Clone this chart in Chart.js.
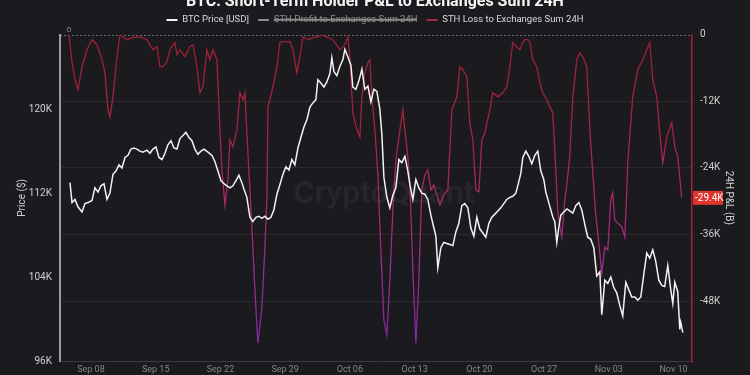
<!DOCTYPE html>
<html>
<head>
<meta charset="utf-8">
<script src="https://cdn.jsdelivr.net/npm/chart.js@4.4.1/dist/chart.umd.min.js"></script>
<style>
  html, body { margin: 0; padding: 0; background: #1b1a1f; overflow: hidden; }
  #wrap { position: absolute; left: 0; top: -10px; width: 750px; height: 385px; }
</style>
</head>
<body>
<div id="wrap"><canvas id="chart"></canvas></div>
<script>
// x positions are days counted from Sep 08
const xTickDays = [0, 7, 14, 21, 28, 35, 42, 49, 56, 63];
const xTickLabels = ['Sep 08', 'Sep 15', 'Sep 22', 'Sep 29', 'Oct 06', 'Oct 13', 'Oct 20', 'Oct 27', 'Nov 03', 'Nov 10'];
const priceTicks = [96, 104, 112, 120];      // thousand USD
const lossTicks = [0, -12, -24, -36, -48];   // thousand BTC

const priceDays = [-2.27, -2.05, -1.73, -1.41, -0.97, -0.65, -0.32, 0.11, 0.43, 0.76,
  1.08, 1.41, 1.73, 2.05, 2.38, 2.70, 3.03, 3.35, 3.68, 4.00,
  4.32, 4.65, 4.97, 5.30, 5.62, 6.05, 6.38, 6.70, 7.03, 7.35,
  7.68, 8.00, 8.32, 8.65, 8.97, 9.30, 9.62, 9.95, 10.27, 10.59,
  10.92, 11.24, 11.57, 11.89, 12.22, 12.65, 13.08, 13.41, 13.73, 14.05,
  14.38, 14.70, 15.03, 15.35, 15.68, 16.00, 16.32, 16.54, 16.86, 17.19,
  17.51, 17.84, 18.16, 18.49, 18.81, 19.14, 19.46, 19.78, 20.11, 20.43,
  20.76, 21.08, 21.41, 21.73, 22.05, 22.38, 22.70, 23.03, 23.35, 23.68,
  24.00, 24.32, 24.54, 24.86, 25.19, 25.51, 25.84, 26.05, 26.27, 26.59,
  26.92, 27.24, 27.46, 27.78, 28.11, 28.32, 28.65, 28.97, 29.30, 29.62,
  29.95, 30.27, 30.59, 30.92, 31.24, 31.46, 31.68, 32.00, 32.32, 32.65,
  32.97, 33.30, 33.62, 33.95, 34.27, 34.49, 34.81, 35.14, 35.46, 35.78,
  36.11, 36.43, 36.76, 37.08, 37.30, 37.51, 37.84, 38.16, 38.49, 38.81,
  39.14, 39.46, 39.78, 40.11, 40.43, 40.76, 41.08, 41.41, 41.73, 42.05,
  42.38, 42.70, 43.03, 43.35, 43.68, 44.00, 44.32, 44.65, 44.97, 45.30,
  45.62, 45.95, 46.27, 46.49, 46.70, 47.03, 47.35, 47.68, 48.00, 48.32,
  48.65, 48.97, 49.19, 49.41, 49.73, 49.95, 50.16, 50.38, 50.59, 50.81,
  51.14, 51.46, 51.78, 52.11, 52.43, 52.76, 53.08, 53.41, 53.73, 54.05,
  54.38, 54.70, 55.03, 55.24, 55.57, 55.89, 56.22, 56.54, 56.86, 57.19,
  57.51, 57.84, 58.16, 58.49, 58.81, 59.14, 59.46, 59.78, 60.11, 60.43,
  60.76, 61.08, 61.41, 61.73, 62.05, 62.38, 62.70, 62.92, 63.14, 63.46,
  63.68, 63.78, 64.00];

// BTC price, thousand USD
const btcPrice = [113.0, 111.1, 111.4, 110.7, 110.2, 111.0, 111.1, 111.3, 112.5, 112.1,
  112.7, 112.9, 111.4, 112.0, 113.8, 114.1, 114.7, 114.4, 115.4, 115.6,
  116.2, 116.3, 116.2, 116.0, 115.9, 116.1, 115.8, 116.2, 116.4, 115.4,
  115.2, 115.8, 116.6, 117.0, 116.3, 116.2, 117.2, 117.5, 117.8, 117.3,
  117.0, 116.2, 115.7, 116.0, 116.2, 115.9, 115.6, 115.0, 114.1, 113.2,
  112.9, 112.7, 112.5, 112.7, 113.2, 113.7, 113.0, 112.4, 111.6, 109.7,
  109.3, 109.7, 109.8, 109.6, 109.8, 109.5, 109.7, 110.4, 111.9, 112.8,
  113.8, 114.5, 114.2, 115.2, 114.7, 116.3, 117.3, 118.3, 119.0, 120.2,
  120.6, 120.9, 122.8, 122.5, 122.1, 122.6, 123.4, 124.9, 123.6, 123.2,
  124.1, 124.7, 125.7, 125.0, 124.2, 122.1, 121.9, 122.7, 123.8, 121.9,
  122.2, 120.7, 121.9, 121.7, 120.0, 117.6, 113.5, 111.6, 110.6, 111.8,
  112.5, 115.2, 114.9, 115.5, 114.1, 112.8, 111.4, 113.3, 112.5, 112.0,
  111.9, 111.4, 109.9, 108.7, 107.9, 104.9, 106.8, 107.3, 107.2, 107.1,
  107.0, 108.3, 109.1, 110.8, 111.0, 110.6, 108.7, 107.9, 109.7, 108.6,
  108.2, 107.8, 109.1, 109.7, 110.0, 110.3, 110.6, 111.0, 111.4, 111.6,
  111.7, 112.0, 113.1, 113.9, 115.4, 116.0, 115.5, 114.8, 115.6, 116.0,
  114.1, 113.3, 112.1, 111.4, 110.4, 109.7, 109.3, 107.3, 108.7, 109.9,
  110.2, 110.5, 110.3, 110.1, 110.8, 111.1, 110.4, 109.0, 107.8, 107.6,
  106.8, 104.1, 104.5, 100.4, 103.7, 103.4, 104.0, 103.0, 102.5, 101.3,
  100.3, 103.5, 102.8, 102.1, 102.1, 101.8, 102.1, 104.2, 106.3, 105.8,
  106.6, 105.5, 103.7, 103.2, 103.1, 105.1, 102.8, 101.5, 103.5, 102.6,
  99.0, 99.7, 98.7];

const lossDays = [-2.38, -2.05, -1.73, -1.41, -0.97, -0.43, 0.11, 0.65, 1.19, 1.51,
  1.84, 2.05, 2.38, 2.81, 3.14, 3.89, 4.54, 5.30, 6.05, 6.70,
  7.14, 7.46, 7.78, 8.22, 8.54, 9.08, 9.30, 9.62, 10.16, 10.70,
  11.03, 11.46, 11.78, 12.11, 12.54, 12.86, 13.19, 13.62, 13.95, 14.16,
  14.49, 14.81, 15.03, 15.35, 15.78, 16.11, 16.43, 16.65, 16.86, 17.19,
  17.41, 17.73, 18.05, 18.49, 18.81, 19.03, 19.14, 19.35, 19.68, 20.11,
  20.43, 20.76, 21.51, 21.84, 22.27, 22.59, 22.92, 23.46, 24.00, 24.54,
  24.97, 25.62, 26.16, 26.92, 27.46, 27.78, 28.00, 28.32, 28.76, 29.08,
  29.30, 29.62, 29.95, 30.16, 30.38, 30.70, 31.03, 31.35, 31.68, 32.00,
  32.32, 32.65, 32.97, 33.41, 33.73, 33.95, 34.27, 34.49, 34.81, 35.14,
  35.46, 35.78, 36.11, 36.43, 36.76, 37.08, 37.41, 37.73, 38.16, 38.59,
  39.03, 39.57, 39.89, 40.22, 40.65, 40.97, 41.30, 41.62, 41.95, 42.27,
  42.59, 43.14, 43.46, 44.00, 44.54, 44.97, 45.30, 45.62, 46.05, 46.38,
  46.70, 46.92, 47.24, 47.46, 47.78, 48.22, 48.54, 48.86, 49.30, 49.62,
  49.95, 50.27, 50.49, 50.92, 51.24, 51.46, 51.78, 52.11, 52.54, 52.86,
  53.19, 53.62, 53.95, 54.27, 54.59, 55.03, 55.24, 55.57, 55.89, 56.22,
  56.43, 56.65, 56.97, 57.41, 57.73, 57.95, 58.05, 58.59, 59.14, 59.68,
  60.11, 60.43, 60.76, 61.19, 61.51, 61.84, 62.27, 62.81, 63.14, 63.46,
  63.89];

// STH loss to exchanges, thousand BTC
const sthLoss = [0, -5.05, -8.12, -9.92, -5.77, -2.71, -0.90, -1.80, -4.51, -6.86,
  -13.53, -14.80, -11.19, -3.97, 0, -0.90, -0.54, -0.36, -0.90, -2.71,
  -2.17, -5.77, -5.77, -4.87, -2.71, -1.44, -3.61, -2.71, -3.97, -2.17,
  -1.80, -5.77, -10.47, -9.38, -2.71, -4.51, -2.71, -4.51, -17.14, -24.36,
  -30.67, -26.16, -18.95, -20.21, -17.14, -10.47, -11.73, -10.47, -17.68, -27.97,
  -35.19, -46.01, -55.58, -49.08, -38.25, -29.23, -12.99, -11.73, -9.38, -5.77,
  -1.44, -1.26, -1.26, -2.71, -6.86, -3.97, -0.36, -0.90, -0.54, -0.36,
  0, -0.54, -0.90, -2.71, -1.80, -0.36, -3.97, -14.07, -17.14, -18.40,
  -11.19, -6.86, -5.05, -4.51, -11.19, -17.14, -25.26, -38.79, -51.43, -54.13,
  -44.21, -31.58, -22.55, -17.14, -13.53, -17.14, -22.01, -26.71, -42.40, -55.58,
  -44.21, -27.97, -25.26, -24.36, -27.97, -27.07, -28.87, -30.67, -28.87, -27.97,
  -13.53, -11.19, -5.77, -6.32, -7.58, -15.88, -18.95, -27.97, -28.33, -18.95,
  -17.68, -13.53, -10.47, -11.19, -10.47, -9.38, -5.77, -1.44, -2.17, -2.71,
  -1.44, -0.90, -0.90, -1.26, -4.51, -5.77, -8.66, -10.47, -11.73, -12.99,
  -14.07, -24.36, -32.12, -36.45, -29.77, -27.07, -22.01, -11.19, -4.51, -3.25,
  -3.97, -5.77, -17.14, -24.90, -32.48, -39.34, -42.95, -38.25, -38.79, -29.77,
  -28.51, -33.38, -33.92, -34.64, -36.45, -27.97, -23.10, -11.19, -6.32, -4.51,
  -2.71, -1.44, -8.12, -11.19, -17.68, -23.10, -18.40, -15.88, -20.21, -22.01,
  -29.4];

// profit series is switched off in the reference, nothing of it is drawn
const sthProfit = [];

const FONT = 'Roboto, "Noto Sans", sans-serif';
Chart.defaults.font.family = FONT;

const toPoints = (xs, ys) => xs.map((x, i) => ({ x: x, y: ys[i] }));

let lossGradient = null;
let gradientTop = null;
function getLossGradient(chart) {
  const area = chart.chartArea;
  if (!area) return '#a0223a';
  if (!lossGradient || gradientTop !== area.top) {
    const g = chart.ctx.createLinearGradient(0, area.top, 0, area.bottom);
    g.addColorStop(0, '#9c2034');
    g.addColorStop(0.3, '#a32443');
    g.addColorStop(0.5, '#a52a68');
    g.addColorStop(0.72, '#9a2d8c');
    g.addColorStop(1, '#7c29a3');
    lossGradient = g;
    gradientTop = area.top;
  }
  return lossGradient;
}

const overlays = {
  id: 'overlays',
  beforeDatasetsDraw(chart) {
    const { ctx, chartArea: a } = chart;
    ctx.save();
    // watermark
    ctx.font = '600 32px ' + FONT;
    ctx.fillStyle = 'rgba(255,255,255,0.05)';
    ctx.textAlign = 'center';
    ctx.textBaseline = 'middle';
    ctx.fillText('CryptoQuant', (a.left + a.right) / 2 + 8, (a.top + a.bottom) / 2 - 3);
    // dashed zero line on top
    const y0 = Math.round(chart.scales.yLoss.getPixelForValue(0)) + 0.5;
    ctx.setLineDash([2, 2]);
    ctx.strokeStyle = 'rgba(255,255,255,0.35)';
    ctx.lineWidth = 1;
    ctx.beginPath();
    ctx.moveTo(a.left, y0);
    ctx.lineTo(a.right, y0);
    ctx.stroke();
    ctx.restore();
  },
  afterDraw(chart) {
    const { ctx } = chart;
    const yScale = chart.scales.yLoss;
    const xScale = chart.scales.x;
    ctx.save();
    // last value badge on the right axis
    const last = sthLoss[sthLoss.length - 1];
    const y = yScale.getPixelForValue(last);
    ctx.fillStyle = '#e0352f';
    ctx.fillRect(yScale.left + 1, y - 7, 30, 14);
    ctx.fillStyle = '#ffffff';
    ctx.font = '10px ' + FONT;
    ctx.textAlign = 'left';
    ctx.textBaseline = 'middle';
    ctx.fillText(last.toFixed(1) + 'K', yScale.left + 3, y + 0.5);
    // small label at the first loss point
    ctx.fillStyle = '#8a8a8a';
    ctx.font = '8px ' + FONT;
    ctx.textAlign = 'center';
    ctx.textBaseline = 'bottom';
    ctx.fillText('0', xScale.getPixelForValue(lossDays[0]), yScale.getPixelForValue(sthLoss[0]) - 1);
    ctx.restore();
  }
};

const ctx = document.getElementById('chart').getContext('2d');
new Chart(ctx, {
  type: 'line',
  data: {
    datasets: [{
      label: 'BTC Price [USD]',
      data: toPoints(priceDays, btcPrice),
      yAxisID: 'yPrice',
      borderColor: '#f2f2f2',
      legendColor: '#f2f2f2',
      borderWidth: 1.5,
      pointRadius: 0,
      tension: 0,
    }, {
      label: 'STH Profit to Exchanges Sum 24H',
      data: sthProfit,
      yAxisID: 'yLoss',
      hidden: true,
      borderColor: '#8c8c8c',
      legendColor: '#8c8c8c',
      borderWidth: 1.2,
      pointRadius: 0,
    }, {
      label: 'STH Loss to Exchanges Sum 24H',
      data: toPoints(lossDays, sthLoss),
      yAxisID: 'yLoss',
      borderColor: c => getLossGradient(c.chart),
      legendColor: '#b3263c',
      borderWidth: 1.3,
      pointRadius: 0,
      tension: 0,
    }],
  },
  options: {
    responsive: true,
    maintainAspectRatio: false,
    animation: false,
    events: [],
    layout: { padding: 0 },
    plugins: {
      title: {
        display: true,
        text: 'BTC: Short-Term Holder P&L to Exchanges Sum 24H',
        color: '#f5f5f5',
        font: { size: 16, weight: 'bold' },
        padding: { top: 2, bottom: -5 },
      },
      legend: {
        display: true,
        position: 'top',
        labels: {
          boxWidth: 11,
          boxHeight: 2,
          padding: 9,
          color: '#d9d9d9',
          font: { size: 9.5 },
          generateLabels(chart) {
            return chart.data.datasets.map((ds, i) => {
              const visible = chart.isDatasetVisible(i);
              return {
                text: ds.label,
                fillStyle: ds.legendColor,
                strokeStyle: ds.legendColor,
                lineWidth: 0,
                hidden: !visible,
                fontColor: visible ? '#d9d9d9' : '#8c8c8c',
                datasetIndex: i,
              };
            });
          },
        },
      },
      tooltip: { enabled: false },
    },
    scales: {
      x: {
        type: 'linear',
        min: -3.35,
        max: 65,
        afterBuildTicks: s => { s.ticks = xTickDays.map(v => ({ value: v })); },
        afterFit: s => { s.height = 14; },
        grid: { drawOnChartArea: false, drawTicks: false },
        border: { color: '#3b3a40', width: 1 },
        ticks: {
          color: '#858585',
          font: { size: 9 },
          padding: 3,
          autoSkip: false,
          maxRotation: 0,
          callback: (v, i) => xTickLabels[i],
        },
      },
      yPrice: {
        type: 'linear',
        position: 'left',
        min: 96,
        max: 127.1,
        afterBuildTicks: s => { s.ticks = priceTicks.map(v => ({ value: v })); },
        afterFit: s => { s.width = 60; },
        grid: { drawOnChartArea: false, drawTicks: false },
        border: { color: '#9a9a9a', width: 2 },
        ticks: { color: '#d0d0d0', font: { size: 10 }, padding: 8, callback: v => v + 'K' },
        title: {
          display: true,
          text: 'Price ($)',
          color: '#cfcfcf',
          font: { size: 10 },
          padding: { top: 16, bottom: 0 },
        },
      },
      yLoss: {
        type: 'linear',
        position: 'right',
        min: -58.8,
        max: 0,
        afterBuildTicks: s => { s.ticks = lossTicks.map(v => ({ value: v })); },
        afterFit: s => { s.width = 58; },
        grid: {
          drawTicks: false,
          color: c => (c.tick && c.tick.value === 0) ? 'rgba(0,0,0,0)' : 'rgba(255,255,255,0.07)',
        },
        border: { color: '#a3223a', width: 1.5 },
        ticks: { color: '#d0d0d0', font: { size: 10 }, padding: 8, callback: v => (v === 0 ? '0' : v + 'K') },
        title: {
          display: true,
          text: '24H P&L (B)',
          color: '#cfcfcf',
          font: { size: 10 },
          padding: { top: 16, bottom: 0 },
        },
      },
    },
  },
  plugins: [overlays],
});
</script>
</body>
</html>
